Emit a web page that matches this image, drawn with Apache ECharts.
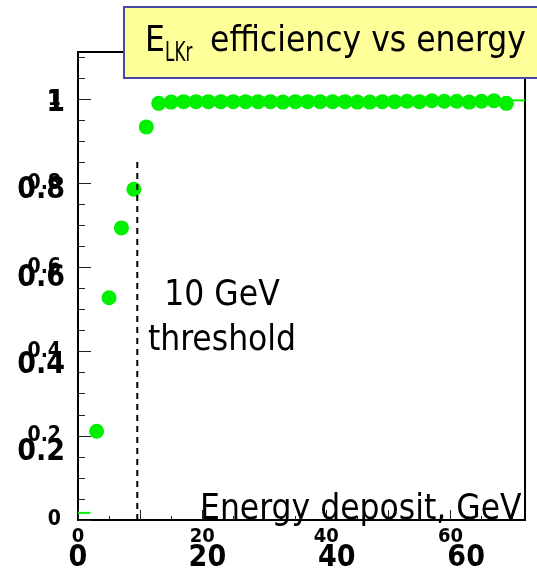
<!DOCTYPE html>
<html><head><meta charset="utf-8">
<script src="https://cdn.jsdelivr.net/npm/echarts@6/dist/echarts.min.js"></script>
<style>html,body{margin:0;padding:0;background:#fff}#c{width:537px;height:577px}</style>
</head><body><div id="c"></div>
<script>
// ---- data ----
const energy = [3, 5, 7, 9, 11, 13, 15, 17, 19, 21, 23, 25, 27, 29, 31, 33, 35, 37, 39, 41, 43, 45, 47, 49, 51, 53, 55, 57, 59, 61, 63, 65, 67, 69];
const efficiency = [0.211, 0.528, 0.694, 0.786, 0.934, 0.990, 0.993, 0.994, 0.994, 0.994, 0.994, 0.994, 0.994, 0.994, 0.994, 0.993, 0.994, 0.994, 0.994, 0.994, 0.994, 0.993, 0.993, 0.994, 0.994, 0.995, 0.994, 0.996, 0.995, 0.995, 0.993, 0.995, 0.996, 0.990];
const lowEdgeX = [0, 2];
const lowEdgeY = [0.017, 0.017];
const highEdgeX = [69.5, 72];
const highEdgeY = [0.997, 0.997];
const thresholdX = [9.55, 9.55];
const thresholdY = [0, 0.855];
const xLabelValues = [0, 20, 40, 60];
const xLabels = ['0', '20', '40', '60'];
const xMajorTicks = [0, 10, 20, 30, 40, 50, 60, 70];
const xMinorTicks = [5, 15, 25, 35, 45, 55, 65];
const yLabelValues = [0, 0.2, 0.4, 0.6, 0.8, 1];
const yLabels = ['0', '0.2', '0.4', '0.6', '0.8', '1'];
const yBigLabelValues = [0.2, 0.4, 0.6, 0.8, 1];
const yMinorTicks = [0.05, 0.1, 0.15, 0.25, 0.3, 0.35, 0.45, 0.5, 0.55, 0.65, 0.7, 0.75, 0.85, 0.9, 0.95, 1.05, 1.1];
const titleMain = 'E';
const titleSub = 'LKr';
const titleRest = 'efficiency vs energy';
const noteText = '10 GeV\nthreshold';
const xName = 'Energy deposit, GeV';

// ---- chart ----
const FC = '"DejaVu Sans Condensed", "DejaVu Sans", sans-serif';
const zip = (a, b) => a.map((v, i) => [v, b[i]]);
const fmt = (vals, labs) => v => { const i = vals.findIndex(t => Math.abs(t - v) < 1e-6); return i >= 0 ? labs[i] : ''; };

const chart = echarts.init(document.getElementById('c'), null, {renderer: 'canvas'});
chart.setOption({
  animation: false,
  backgroundColor: '#fff',
  grid: {left: 78, top: 52, width: 447, height: 468, show: true, borderColor: '#000', borderWidth: 2, backgroundColor: 'transparent'},
  xAxis: [
    {type: 'value', min: 0, max: 72, position: 'bottom',
     axisLine: {show: true, lineStyle: {color: '#000', width: 2}},
     axisTick: {show: true, inside: true, length: 10, customValues: xMajorTicks, lineStyle: {color: '#222', width: 1}},
     axisLabel: {customValues: xLabelValues, formatter: fmt(xLabelValues, xLabels), fontSize: 20, fontWeight: 'bold', fontFamily: FC, color: '#000', margin: 7},
     splitLine: {show: false}},
    {type: 'value', min: 0, max: 69.1, position: 'bottom',
     axisLine: {show: false}, axisTick: {show: false},
     axisLabel: {customValues: xLabelValues, formatter: fmt(xLabelValues, xLabels), fontSize: 30, fontWeight: 'bold', fontFamily: FC, color: '#000', margin: 23},
     splitLine: {show: false}},
    {type: 'value', min: 0, max: 72, position: 'bottom',
     axisLine: {show: false},
     axisTick: {show: true, inside: true, length: 4, customValues: xMinorTicks, lineStyle: {color: '#222', width: 1}},
     axisLabel: {show: false}, splitLine: {show: false}}
  ],
  yAxis: [
    {type: 'value', min: 0, max: 1.112, position: 'left',
     axisLine: {show: true, lineStyle: {color: '#000', width: 2}},
     axisTick: {show: true, inside: true, length: 13, customValues: yLabelValues, lineStyle: {color: '#222', width: 1}},
     axisLabel: {customValues: yLabelValues, formatter: fmt(yLabelValues, yLabels), fontSize: 21, fontWeight: 'bold', fontFamily: FC, color: '#000', margin: 17},
     splitLine: {show: false}},
    {type: 'value', min: 0.0458, max: 1.117, position: 'left',
     axisLine: {show: false}, axisTick: {show: false},
     axisLabel: {customValues: yBigLabelValues, formatter: fmt(yLabelValues, yLabels), fontSize: 30, fontWeight: 'bold', fontFamily: FC, color: '#000', margin: 13},
     splitLine: {show: false}},
    {type: 'value', min: 0, max: 1.112, position: 'left',
     axisLine: {show: false},
     axisTick: {show: true, inside: true, length: 7, customValues: yMinorTicks, lineStyle: {color: '#222', width: 1}},
     axisLabel: {show: false}, splitLine: {show: false}}
  ],
  series: [
    {type: 'scatter', data: zip(energy, efficiency), symbol: 'circle', symbolSize: 15,
     itemStyle: {color: '#00f000', opacity: 1}, z: 3},
    {type: 'line', data: zip(lowEdgeX, lowEdgeY), symbol: 'none', lineStyle: {color: '#00f000', width: 2}, z: 2},
    {type: 'line', data: zip(highEdgeX, highEdgeY), symbol: 'none', lineStyle: {color: '#00f000', width: 2}, z: 2},
    {type: 'line', data: zip(thresholdX, thresholdY), symbol: 'none', lineStyle: {color: '#000', width: 2, type: [6, 5]}, z: 4}
  ],
  graphic: [
    {type: 'rect', z: 100, shape: {x: 124, y: 7, width: 440, height: 71}, style: {fill: '#ffff99', stroke: '#4848a8', lineWidth: 2}},
    {type: 'text', z: 101, x: 145, y: 41.5, style: {text: titleMain, font: '35px ' + FC, fill: '#000', textAlign: 'left', textVerticalAlign: 'middle'}},
    {type: 'text', z: 101, x: 165, y: 54, scaleX: 0.72, style: {text: titleSub, font: '26px ' + FC, fill: '#000', textAlign: 'left', textVerticalAlign: 'middle'}},
    {type: 'text', z: 101, x: 210, y: 41.5, style: {text: titleRest, font: '35px ' + FC, fill: '#000', textAlign: 'left', textVerticalAlign: 'middle'}},
    {type: 'text', z: 101, x: 222, y: 318.5, style: {text: noteText, font: '35px ' + FC, lineHeight: 45, fill: '#000', textAlign: 'center', textVerticalAlign: 'middle'}},
    {type: 'text', z: 101, x: 200, y: 510, style: {text: xName, font: '35px ' + FC, fill: '#000', textAlign: 'left', textVerticalAlign: 'middle'}}
  ]
});
</script>
</body></html>
